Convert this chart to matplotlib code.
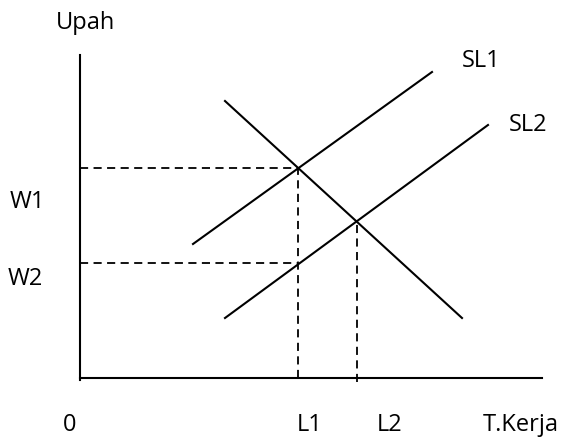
import matplotlib
matplotlib.use("Agg")
import matplotlib.pyplot as plt

# Diagram coordinates (origin at the axis corner)
d_x = [145, 382]
d_y = [277, 60]
sl1_x = [113, 352]
sl1_y = [134, 306]
sl2_x = [145, 408]
sl2_y = [60, 253]

# equilibrium points
e1 = (218, 210)
e2 = (277, 157)
w2_y = 115

axis_top = 323
axis_right = 462

plt.rcParams['font.family'] = ['Open Sans', 'DejaVu Sans']

fig = plt.figure(figsize=(5.66, 4.39), dpi=100)
ax = fig.add_axes([0, 0, 1, 1])
ax.set_xlim(-80, 486)
ax.set_ylim(-60, 379)
ax.axis('off')

lw = 1.5
# axes
ax.plot([0, 0], [-2, axis_top], color='black', lw=lw)
ax.plot([0, axis_right], [0, 0], color='black', lw=lw)

# curves
ax.plot(d_x, d_y, color='black', lw=lw)
ax.plot(sl1_x, sl1_y, color='black', lw=lw)
ax.plot(sl2_x, sl2_y, color='black', lw=lw)

# dashed guides
dash = (0, (4.5, 3))
ax.plot([0, e1[0]], [e1[1], e1[1]], color='black', lw=1.3, linestyle=dash)
ax.plot([0, e1[0]], [w2_y, w2_y], color='black', lw=1.3, linestyle=dash)
ax.plot([e1[0], e1[0]], [0, e1[1]], color='black', lw=1.3, linestyle=dash)
ax.plot([e2[0], e2[0]], [-4, e2[1]], color='black', lw=1.3, linestyle=dash)

fs = 17
ax.text(6, 356, "Upah", fontsize=fs, ha='center', va='center')
ax.text(-53, 177, "W1", fontsize=fs, ha='center', va='center')
ax.text(-55, 100, "W2", fontsize=fs, ha='center', va='center')
ax.text(-10, -46, "0", fontsize=fs, ha='center', va='center')
ax.text(230, -46, "L1", fontsize=fs, ha='center', va='center')
ax.text(310, -46, "L2", fontsize=fs, ha='center', va='center')
ax.text(441, -46, "T.Kerja", fontsize=fs, ha='center', va='center')
ax.text(401, 318, "SL1", fontsize=fs, ha='center', va='center')
ax.text(448, 254, "SL2", fontsize=fs, ha='center', va='center')

fig.savefig("out.png", dpi=100)
